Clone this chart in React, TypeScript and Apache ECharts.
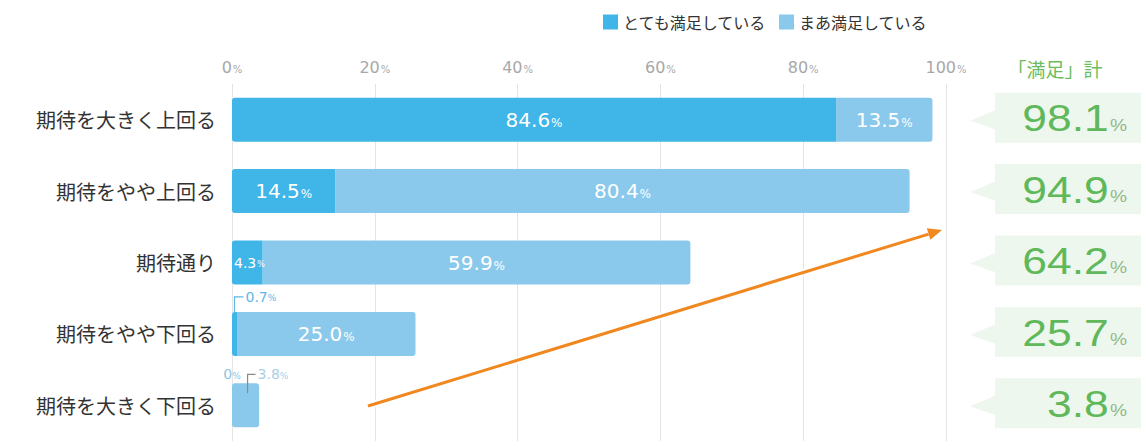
import React, { useEffect, useRef } from "react";
import * as echarts from "echarts";

const categories = ["期待を大きく上回る", "期待をやや上回る", "期待通り", "期待をやや下回る", "期待を大きく下回る"];
const verySatisfied = [84.6, 14.5, 4.3, 0.7, 0];
const somewhatSatisfied = [13.5, 80.4, 59.9, 25.0, 3.8];
const totals = [98.1, 94.9, 64.2, 25.7, 3.8];
const seriesNames = ["とても満足している", "まあ満足している"];
const totalTitle = "「満足」計";

const DARK = "#3fb5e8";
const LIGHT = "#8bc9ec";
const GREEN = "#5fb85a";
const NUM_FONT = "'DejaVu Sans', 'Noto Sans', sans-serif";
const HELV = "'Liberation Sans', Arial, sans-serif";
const JP_FONT = "'Noto Sans CJK JP', 'Noto Sans', sans-serif";

const fmt = (v: number) => v.toFixed(1);

export default function App() {
  const ref = useRef<HTMLDivElement>(null);
  useEffect(() => {
    if (!ref.current) return;
    const chart = echarts.init(ref.current, undefined, { renderer: "svg" });
    const richLabel = (size: number) => ({
      v: { color: "#fff", fontSize: size, fontFamily: NUM_FONT },
      p: { color: "#fff", fontSize: Math.round(size * 0.6), fontFamily: NUM_FONT, padding: [Math.round(size * 0.28), 0, 0, 1] },
    });
    const darkData = verySatisfied.map((v) => ({
      value: v,
      itemStyle: { borderRadius: [3, 0, 0, 3] },
      label: {
        show: v >= 2,
        position: v < 8 ? "insideLeft" : "inside",
        distance: 2,
        formatter: `{v|${fmt(v)}}{p|%}`,
        rich: richLabel(v < 8 ? 14 : 20),
      },
    }));
    const lightData = somewhatSatisfied.map((v, i) => ({
      value: v,
      itemStyle: { borderRadius: verySatisfied[i] === 0 ? [3, 3, 3, 3] : [0, 3, 3, 0] },
      label: {
        show: v >= 8,
        position: "inside",
        formatter: `{v|${fmt(v)}}{p|%}`,
        rich: richLabel(20),
      },
    }));

    chart.setOption({
      animation: false,
      legend: {
        data: seriesNames,
        top: 9,
        left: 598,
        itemWidth: 15,
        itemHeight: 15,
        itemGap: 12,
        icon: "rect",
        textStyle: { fontSize: 16, color: "#333", fontFamily: JP_FONT },
      },
      grid: { left: 232, right: 195, top: 84, height: 357 },
      xAxis: {
        type: "value",
        position: "top",
        min: 0,
        max: 100,
        interval: 20,
        axisLine: { show: false },
        axisTick: { show: false },
        splitLine: { lineStyle: { color: "#e4e4e4", width: 1 } },
        axisLabel: {
          margin: 9,
          formatter: (v: number) => `{n|${v}}{p|%}`,
          rich: {
            n: { fontSize: 16, color: "#a8a8a8", fontFamily: NUM_FONT },
            p: { fontSize: 10, color: "#a8a8a8", fontFamily: NUM_FONT, padding: [4, 0, 0, 1] },
          },
        },
      },
      yAxis: {
        type: "category",
        data: categories,
        inverse: true,
        axisLine: { show: false },
        axisTick: { show: false },
        axisLabel: { margin: 16, fontSize: 20, color: "#333", fontFamily: JP_FONT },
      },
      series: [
        {
          name: seriesNames[0],
          type: "bar",
          stack: "s",
          barWidth: 44,
          itemStyle: { color: DARK },
          data: darkData,
        },
        {
          name: seriesNames[1],
          type: "bar",
          stack: "s",
          barWidth: 44,
          itemStyle: { color: LIGHT },
          data: lightData,
        },
      ],
    });

    const px = (x: number, i: number) => chart.convertToPixel({ gridIndex: 0 }, [x, i]) as number[];
    const graphics: any[] = [];
    const half = 22;

    const smallRich = (c: string) => ({
      v: { fontSize: 14, fill: c, fontFamily: NUM_FONT },
      p: { fontSize: 9, fill: c, fontFamily: NUM_FONT, padding: [3, 0, 0, 0] },
    });

    verySatisfied.forEach((v, i) => {
      const [x0, cy] = px(0, i);
      const top = cy - half;
      if (v > 0 && v < 2) {
        const [x1] = px(v, i);
        const bx = (x0 + x1) / 2;
        graphics.push({
          type: "polyline",
          shape: { points: [[bx, top], [bx, top - 15], [bx + 9, top - 15]] },
          style: { stroke: "#5db8e6", lineWidth: 1.2, fill: null },
          z: 20,
        });
        graphics.push({
          type: "text",
          x: bx + 11,
          y: top - 15,
          style: { text: `{v|${fmt(v)}}{p|%}`, rich: smallRich("#5db8e6"), verticalAlign: "middle" },
          z: 20,
        });
      } else if (v === 0) {
        graphics.push({
          type: "text",
          x: x0,
          y: top - 9,
          style: { text: `{v|0}{p|%}`, rich: smallRich("#8cc6e8"), align: "center", verticalAlign: "middle" },
          z: 20,
        });
      }
    });
    somewhatSatisfied.forEach((v, i) => {
      if (v >= 8) return;
      const start = verySatisfied[i];
      const [x0, cy] = px(start, i);
      const [x1] = px(start + v, i);
      const top = cy - half;
      const bx = (x0 + x1) / 2 + 2;
      graphics.push({
        type: "polyline",
        shape: { points: [[bx, top + 10], [bx, top - 9], [bx + 8, top - 9]] },
        style: { stroke: "#8a8a8a", lineWidth: 1.2, fill: null },
        z: 20,
      });
      graphics.push({
        type: "text",
        x: bx + 10,
        y: top - 9,
        style: { text: `{v|${fmt(v)}}{p|%}`, rich: smallRich("#a8cfe8"), verticalAlign: "middle" },
        z: 20,
      });
    });

    graphics.push({
      type: "text",
      x: 1055,
      y: 68,
      style: { text: totalTitle, fontSize: 19, fill: "#6bbd5e", fontFamily: JP_FONT, align: "center", verticalAlign: "middle" },
      z: 20,
    });
    totals.forEach((t, i) => {
      const [, cy] = px(0, i);
      const c = cy - 2;
      graphics.push({
        type: "rect",
        shape: { x: 995, y: c - 25, width: 146, height: 50 },
        style: { fill: "#eef7ee" },
        z: 5,
      });
      graphics.push({
        type: "polygon",
        shape: { points: [[996, c - 8], [970, c + 3], [996, c + 12]] },
        style: { fill: "#eef7ee" },
        z: 5,
      });
      graphics.push({
        type: "text",
        x: 1127,
        y: c + 1,
        scaleX: 1.2,
        style: {
          text: `{v|${fmt(t)}}{p|%}`,
          rich: {
            v: { fontSize: 37, fill: GREEN, fontFamily: HELV },
            p: { fontSize: 16, fill: "#8fb98a", fontFamily: HELV, padding: [13, 0, 0, 1] },
          },
          align: "right",
          verticalAlign: "middle",
        },
        z: 20,
      });
    });

    const ax0 = 368, ay0 = 406, ax1 = 942, ay1 = 230;
    const ang = Math.atan2(ay1 - ay0, ax1 - ax0);
    const hl = 14, hw = 6;
    const bxh = ax1 - hl * Math.cos(ang), byh = ay1 - hl * Math.sin(ang);
    const nx = -Math.sin(ang), ny = Math.cos(ang);
    graphics.push({
      type: "line",
      shape: { x1: ax0, y1: ay0, x2: bxh, y2: byh },
      style: { stroke: "#fff", lineWidth: 7, opacity: 0.8 },
      z: 29,
    });
    graphics.push({
      type: "line",
      shape: { x1: ax0, y1: ay0, x2: bxh, y2: byh },
      style: { stroke: "#f0881f", lineWidth: 3 },
      z: 30,
    });
    graphics.push({
      type: "polygon",
      shape: { points: [[ax1, ay1], [bxh + nx * hw, byh + ny * hw], [bxh - nx * hw, byh - ny * hw]] },
      style: { fill: "#f0881f" },
      z: 30,
    });

    chart.setOption({ graphic: graphics });
    return () => chart.dispose();
  }, []);
  return <div ref={ref} style={{ width: 1141, height: 448, position: "absolute", left: 0, top: 0, background: "#fff" }} />;
}
